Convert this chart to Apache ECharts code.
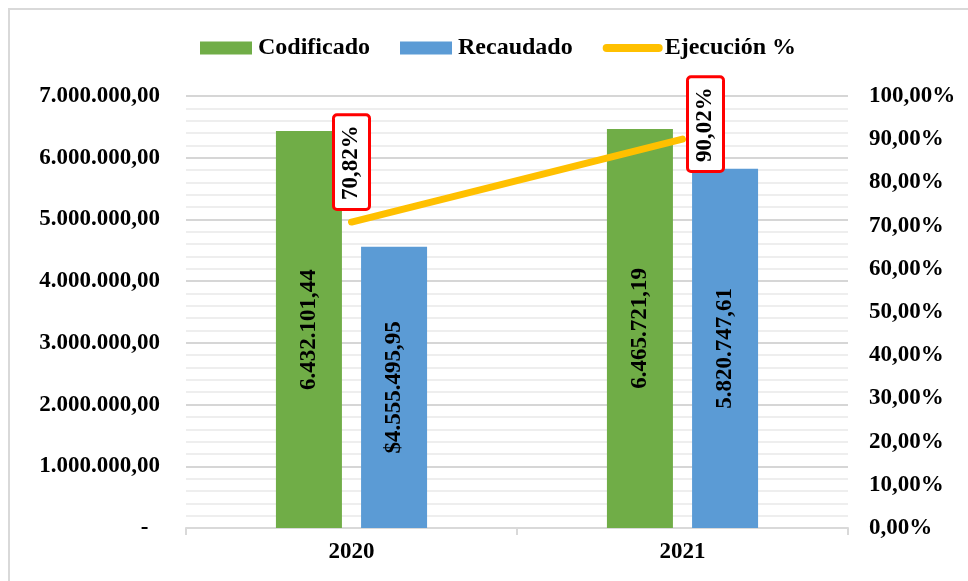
<!DOCTYPE html>
<html><head><meta charset="utf-8">
<script src="https://cdn.jsdelivr.net/npm/echarts@6/dist/echarts.min.js"></script>
<style>
html,body{margin:0;padding:0;background:#fff;overflow:hidden;}
#frame{position:absolute;left:8px;top:8px;width:1000px;height:620px;border:2px solid #d9d9d9;box-sizing:border-box;pointer-events:none;}
#c{position:absolute;left:0;top:0;width:968px;height:581px;}
</style></head>
<body>
<div id="c"></div>
<div id="frame"></div>
<script>
const categories = ['2020', '2021'];
const codificado = [6432101.44, 6465721.19];
const recaudado = [4555495.95, 5820747.61];
const ejecucion = [0.7082, 0.9002];
const recaudadoPrefix = ['$', ''];
const leftTicks = {min: 0, max: 7000000, interval: 1000000};
const rightTicks = {min: 0, max: 1, interval: 0.1};

function fmtNum(v) {
  const parts = v.toFixed(2).split('.');
  parts[0] = parts[0].replace(/\B(?=(\d{3})+(?!\d))/g, '.');
  return parts[0] + ',' + parts[1];
}
function fmtPct(v) { return (v * 100).toFixed(2).replace('.', ',') + '%'; }

const FONT = '"Liberation Serif", "Times New Roman", serif';
const txt = {fontFamily: FONT, fontWeight: 'bold', fontSize: 23, color: '#000'};

const chart = echarts.init(document.getElementById('c'));
const pctLabelOffsets = [[60, 0], [15, 23]];

chart.setOption({
  animation: false,
  legend: {
    top: 31, left: 195, itemGap: 30, itemWidth: 52, itemHeight: 13,
    textStyle: Object.assign({}, txt, {fontSize: 24, padding: [0, 0, 0, 1]}),
    data: [
      {name: 'Codificado', icon: 'rect'},
      {name: 'Recaudado', icon: 'rect'},
      {name: 'Ejecución %', itemStyle: {opacity: 0}, lineStyle: {width: 8, cap: 'round', color: '#FFC000'}}
    ]
  },
  grid: {left: 186, right: 120, top: 96, bottom: 53},
  xAxis: {
    type: 'category', data: categories,
    axisLine: {lineStyle: {color: '#d9d9d9', width: 2}},
    axisTick: {show: true, length: 7, lineStyle: {color: '#d9d9d9', width: 2}},
    axisLabel: Object.assign({margin: 13}, txt)
  },
  yAxis: [{
    type: 'value', min: leftTicks.min, max: leftTicks.max, interval: leftTicks.interval,
    axisLine: {show: false}, axisTick: {show: false},
    axisLabel: Object.assign({margin: 26, formatter: v => v === 0 ? '-  ' : fmtNum(v)}, txt),
    splitLine: {lineStyle: {color: '#d6d6d6', width: 2}},
    minorTick: {show: false, splitNumber: 5},
    minorSplitLine: {show: true, lineStyle: {color: '#eeeeee', width: 2}}
  }, {
    type: 'value', min: rightTicks.min, max: rightTicks.max, interval: rightTicks.interval,
    axisLine: {show: false}, axisTick: {show: false}, splitLine: {show: false},
    axisLabel: Object.assign({margin: 21, formatter: fmtPct}, txt)
  }],
  series: [{
    name: 'Codificado', type: 'bar', data: codificado, barWidth: 66, barGap: '29%',
    itemStyle: {color: '#70AD47'},
    label: {show: true, position: 'inside', rotate: 90, fontFamily: FONT, fontWeight: 'bold', fontSize: 23, color: '#000',
      formatter: p => fmtNum(p.value)}
  }, {
    name: 'Recaudado', type: 'bar', data: recaudado, barWidth: 66,
    itemStyle: {color: '#5B9BD5'},
    label: {show: true, position: 'inside', rotate: 90, fontFamily: FONT, fontWeight: 'bold', fontSize: 23, color: '#000',
      formatter: p => recaudadoPrefix[p.dataIndex] + fmtNum(p.value)}
  }, {
    name: 'Ejecución %', type: 'line', yAxisIndex: 1,
    data: ejecucion.map((v, i) => ({value: v, label: {offset: pctLabelOffsets[i]}})),
    symbol: 'circle', symbolSize: 1, showSymbol: true,
    lineStyle: {color: '#FFC000', width: 7, cap: 'round'},
    itemStyle: {color: '#FFC000'},
    z: 5,
    label: {show: true, position: 'inside', rotate: 90, align: 'center', verticalAlign: 'middle',
      fontFamily: FONT, fontWeight: 'bold', fontSize: 23, color: '#000', lineHeight: 24,
      backgroundColor: '#fff', borderColor: '#ff0000', borderWidth: 3, borderRadius: 2,
      padding: [5, 9, 4, 8],
      formatter: p => fmtPct(p.value)}
  }]
});
</script>
</body></html>
